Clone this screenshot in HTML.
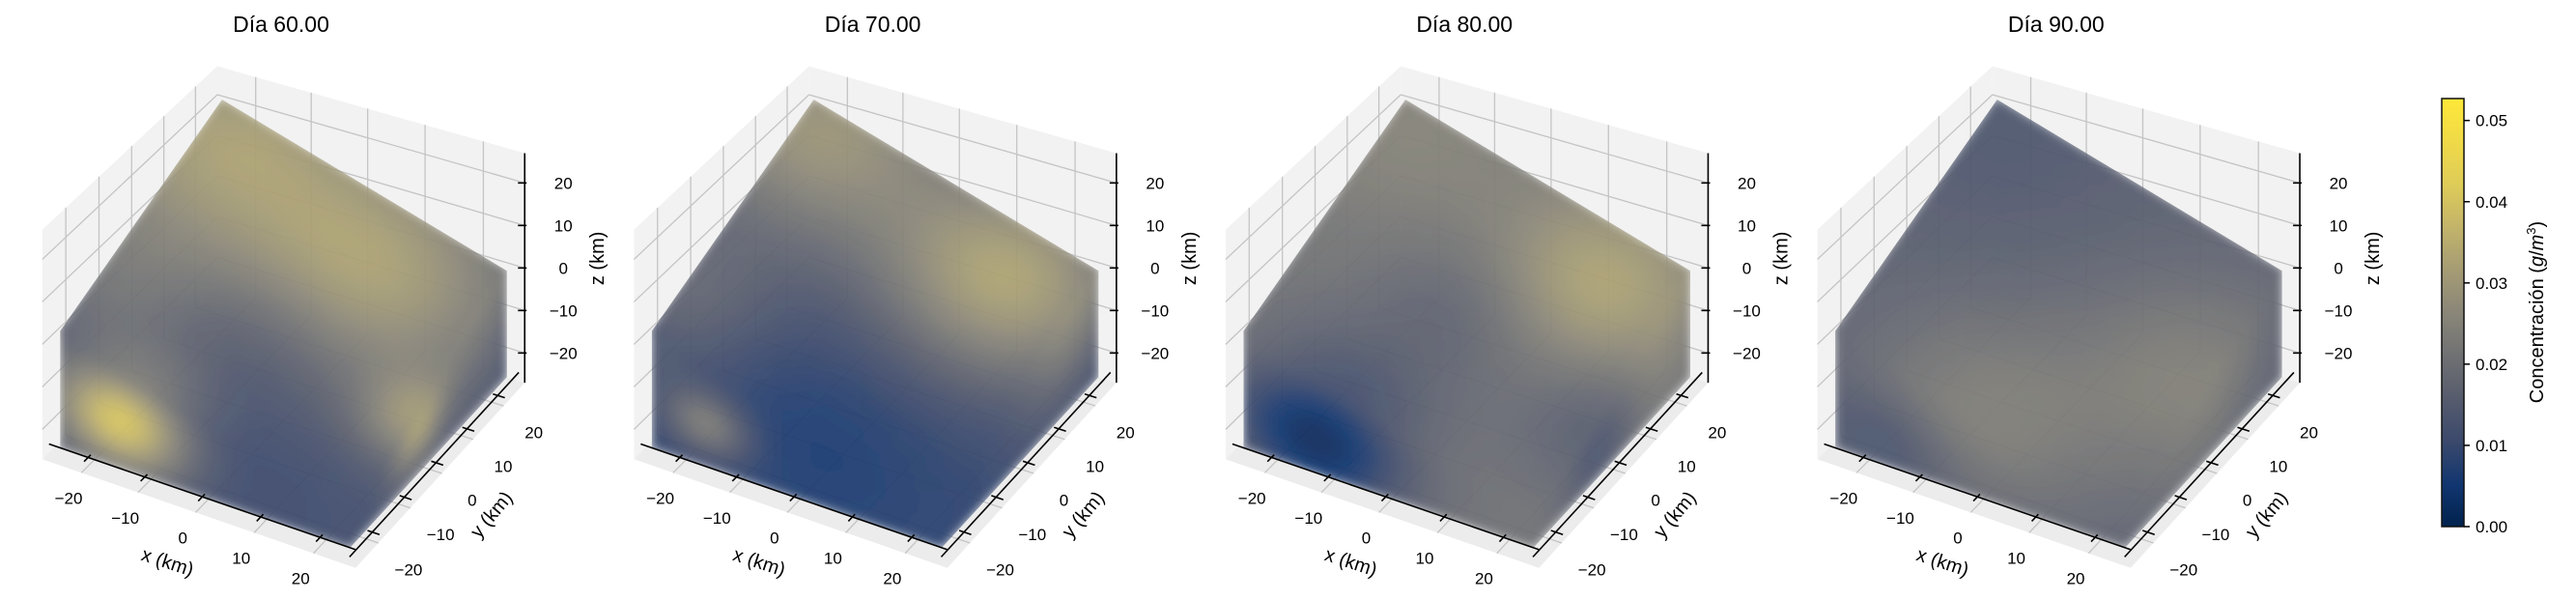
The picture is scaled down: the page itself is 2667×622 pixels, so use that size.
<!DOCTYPE html>
<html><head><meta charset="utf-8"><style>
html,body{margin:0;padding:0;background:#fff;}
svg{display:block;font-family:"Liberation Sans","DejaVu Sans",sans-serif;}
</style></head><body>
<svg id="chart" width="2667" height="622" viewBox="0 0 2667 622" xmlns="http://www.w3.org/2000/svg">
<defs>
<filter id="soft" x="-5%" y="-5%" width="110%" height="110%"><feGaussianBlur stdDeviation="5"/></filter>
<linearGradient id="cbgrad" x1="0" y1="1" x2="0" y2="0"></linearGradient>
</defs>
</svg>
<script>
// ---- data ----
const panelTitles = ["Día 60.00","Día 70.00","Día 80.00","Día 90.00"];
const baseValues = [0.012, 0.009, 0.021, 0.016];
// blobs: [x km, y km, z km, radius km, amplitude g/m3]
const blobs60 = [[-20,18,20,18,0.019],[12,12,4,16,0.018],[-14,-25,-14,8,0.028],[25,-4,-14,6,0.016],[-25,-12,2,10,0.006],[8,-25,-14,14,-0.002],[0,-4,-4,9,-0.003]];
const blobs70 = [[-20,20,20,16,0.020],[15,16,0,14,0.023],[-15,-25,-15,5,0.014],[-25,-15,2,10,0.008],[5,-25,-12,14,-0.003]];
const blobs80 = [[-12,-25,-17,11,-0.019],[15,15,0,12,0.012],[-20,20,20,14,0.004],[25,-4,-18,9,-0.008],[0,0,-2,10,-0.005]];
const blobs90 = [[0,-25,-5,14,0.008],[25,0,-6,14,0.008],[-15,-25,-18,8,-0.005],[-20,20,20,15,-0.002]];
const panelBlobs = [blobs60, blobs70, blobs80, blobs90];
const tickValues = [-20,-10,0,10,20];
const cbTicks = [0.00,0.01,0.02,0.03,0.04,0.05];
const cbTickLabels = ["0.00","0.01","0.02","0.03","0.04","0.05"];
const vmax = 0.0527;

// ---- helpers ----
const NS = "http://www.w3.org/2000/svg";
const svg = document.getElementById('chart');
const cividisStops = [[0,[0,34,78]],[0.1,[18,54,112]],[0.2,[59,73,108]],[0.3,[87,92,109]],[0.4,[112,113,115]],[0.5,[138,134,120]],[0.6,[165,156,116]],[0.7,[195,180,106]],[0.8,[222,204,88]],[0.9,[240,218,72]],[1,[254,232,56]]];
function cividis(t){t=Math.max(0,Math.min(1,t));for(let i=1;i<cividisStops.length;i++){if(t<=cividisStops[i][0]){const a=cividisStops[i-1],b=cividisStops[i];const f=(t-a[0])/(b[0]-a[0]);const c=a[1].map((v,k)=>Math.round(v+(b[1][k]-v)*f));return `rgb(${c[0]},${c[1]},${c[2]})`;}}return 'rgb(254,232,56)';}
function mk(tag,attrs,parent){const e=document.createElementNS(NS,tag);for(const k in attrs)e.setAttribute(k,attrs[k]);(parent||svg).appendChild(e);return e;}
const PDX = 612.6, OX = 293.5, OY = 316.9;
function proj(i,x,y,z){const t=(y-x)/50;const s=1-0.04*t;return [OX+i*PDX+s*(5.95*x+3.3*y), OY+s*(1.875*x-3.34*y-4.4*z)];}
function topZ(x,y){return 1.25-0.42*x+0.37*y;}
function field(i,x,y,z){let v=baseValues[i];for(const b of panelBlobs[i]){const d2=(x-b[0])**2+(y-b[1])**2+(z-b[2])**2;v+=b[4]*Math.exp(-d2/(2*b[3]*b[3]));}return v;}
function pts(a){return a.map(p=>p[0].toFixed(1)+','+p[1].toFixed(1)).join(' ');}

const grad = document.getElementById('cbgrad');
for(let k=0;k<=20;k++){const st=document.createElementNS(NS,'stop');st.setAttribute('offset',(k/20));st.setAttribute('stop-color',cividis(k/20));grad.appendChild(st);}

const L = 27, D = 25, N = 26;
for(let i=0;i<4;i++){
  const g = mk('g',{});
  
  
  const tt = mk('text',{x:291+i*PDX,y:33,'text-anchor':'middle','font-size':23,fill:'#000'},g);
  
  
  tt.textContent = panelTitles[i];
  const panes = mk('g',{},g);
  
  
  const pf = '#f2f2f2';
  mk('polygon',{points:pts([proj(i,-L,-L,-L),proj(i,L,-L,-L),proj(i,L,L,-L),proj(i,-L,L,-L)]),fill:'#ececec'},panes);
  mk('polygon',{points:pts([proj(i,-L,-L,-L),proj(i,-L,L,-L),proj(i,-L,L,L),proj(i,-L,-L,L)]),fill:pf},panes);
  mk('polygon',{points:pts([proj(i,-L,L,-L),proj(i,L,L,-L),proj(i,L,L,L),proj(i,-L,L,L)]),fill:pf},panes);
  const gl = {stroke:'#c4c4c4','stroke-width':1.3,fill:'none'};
  for(const v of tickValues){
    let a,b;
    a=proj(i,-L,v,-L);b=proj(i,-L,v,L);mk('line',Object.assign({x1:a[0],y1:a[1],x2:b[0],y2:b[1]},gl),panes);
    a=proj(i,-L,-L,v);b=proj(i,-L,L,v);mk('line',Object.assign({x1:a[0],y1:a[1],x2:b[0],y2:b[1]},gl),panes);
    a=proj(i,v,L,-L);b=proj(i,v,L,L);mk('line',Object.assign({x1:a[0],y1:a[1],x2:b[0],y2:b[1]},gl),panes);
    a=proj(i,-L,L,v);b=proj(i,L,L,v);mk('line',Object.assign({x1:a[0],y1:a[1],x2:b[0],y2:b[1]},gl),panes);
    a=proj(i,v,-L,-L);b=proj(i,v,L,-L);mk('line',Object.assign({x1:a[0],y1:a[1],x2:b[0],y2:b[1]},gl),panes);
    a=proj(i,-L,v,-L);b=proj(i,L,v,-L);mk('line',Object.assign({x1:a[0],y1:a[1],x2:b[0],y2:b[1]},gl),panes);
  }
  const cid='clip'+i;
  const cp = mk('clipPath',{id:cid},svg.querySelector('defs'));
  const sil = [proj(i,-D,D,topZ(-D,D)),proj(i,D,D,topZ(D,D)),proj(i,D,D,-D),proj(i,D,-D,-D),proj(i,-D,-D,-D),proj(i,-D,-D,topZ(-D,-D))];
  mk('polygon',{points:pts(sil)},cp);
  const vol = mk('g',{'clip-path':`url(#${cid})`},g);
  
  
  const inner = mk('g',{filter:'url(#soft)',opacity:0.93},vol);
  const step = 2*D/N;
  for(let a=0;a<N;a++){for(let b=0;b<N;b++){
    const u0=-D+a*step,u1=u0+step,w0=b/N,w1=(b+1)/N;
    {const y0=-D+b*step,y1=y0+step;const xc=(u0+u1)/2,yc=(y0+y1)/2;
     const c=cividis(field(i,xc,yc,topZ(xc,yc))/vmax);
     const q=[proj(i,u0-0.3,y0-0.3,topZ(u0,y0)),proj(i,u1+0.3,y0-0.3,topZ(u1,y0)),proj(i,u1+0.3,y1+0.3,topZ(u1,y1)),proj(i,u0-0.3,y1+0.3,topZ(u0,y1))];
     mk('polygon',{points:pts(q),fill:c,stroke:c,'stroke-width':1.5},inner);}
    {const zt0=topZ(u0,-D),zt1=topZ(u1,-D);const z=(u,zt,w)=>-D+w*(zt+D);
     const xc=(u0+u1)/2,zc=z(xc,topZ(xc,-D),(w0+w1)/2);
     const c=cividis(field(i,xc,-D,zc)/vmax);
     const q=[proj(i,u0,-D,z(u0,zt0,w0)),proj(i,u1,-D,z(u1,zt1,w0)),proj(i,u1,-D,z(u1,zt1,w1)),proj(i,u0,-D,z(u0,zt0,w1))];
     mk('polygon',{points:pts(q),fill:c,stroke:c,'stroke-width':1.5},inner);}
    {const zt0=topZ(D,u0),zt1=topZ(D,u1);const z=(zt,w)=>-D+w*(zt+D);
     const yc=(u0+u1)/2,zc=z(topZ(D,yc),(w0+w1)/2);
     const c=cividis(field(i,D,yc,zc)/vmax);
     const q=[proj(i,D,u0,z(zt0,w0)),proj(i,D,u1,z(zt1,w0)),proj(i,D,u1,z(zt1,w1)),proj(i,D,u0,z(zt0,w1))];
     mk('polygon',{points:pts(q),fill:c,stroke:c,'stroke-width':1.5},inner);}
  }}
  const ax = mk('g',{stroke:'#000','stroke-width':1.6,fill:'none'},g);
  
  
  let a=proj(i,-L,-D,-D),b=proj(i,L-1,-D,-D);
  mk('line',{x1:a[0],y1:a[1],x2:b[0],y2:b[1]},ax);
  a=proj(i,D+1,-L,-D);b=proj(i,D+1,L,-D);
  mk('line',{x1:a[0],y1:a[1],x2:b[0],y2:b[1]},ax);
  a=proj(i,L,L,-L);b=proj(i,L,L,L);
  mk('line',{x1:a[0],y1:a[1],x2:b[0],y2:b[1]},ax);
  const lab = mk('g',{'font-size':17,fill:'#000'},g);
  
  
  for(let k=0;k<tickValues.length;k++){
    const v=tickValues[k], s=(v<0?'\u2212'+Math.abs(v):String(v));
    a=proj(i,v,-D+0.8,-D);b=proj(i,v,-D-1.2,-D);mk('line',{x1:a[0],y1:a[1],x2:b[0],y2:b[1]},ax);
    let t=mk('text',{x:b[0]-16,y:b[1]+44,'text-anchor':'middle'},lab);t.textContent=s;
    a=proj(i,D+0.2,v,-D);b=proj(i,D+2.2,v,-D);mk('line',{x1:a[0],y1:a[1],x2:b[0],y2:b[1]},ax);
    t=mk('text',{x:b[0]+30,y:b[1]+42,'text-anchor':'middle'},lab);t.textContent=s;
    a=proj(i,L,L,v);mk('line',{x1:a[0]-7,y1:a[1],x2:a[0]+2,y2:a[1]},ax);
    t=mk('text',{x:a[0]+40,y:a[1]+6,'text-anchor':'middle'},lab);t.textContent=s;
  }
  const xl = proj(i,0,-D,-D);
  let t=mk('text',{x:xl[0]-36,y:xl[1]+74,'text-anchor':'middle','font-size':20,transform:`rotate(18 ${xl[0]-36} ${xl[1]+68})`},g);
  
  
  t.textContent='x (km)';
  const yl = proj(i,D,0,-D);
  t=mk('text',{x:yl[0]+64,y:yl[1]+62,'text-anchor':'middle','font-size':20,transform:`rotate(-50 ${yl[0]+64} ${yl[1]+56})`},g);
  
  
  t.textContent='y (km)';
  const zl = proj(i,L,L,0);
  t=mk('text',{x:zl[0]+82,y:zl[1]-10,'text-anchor':'middle','font-size':20,transform:`rotate(-90 ${zl[0]+82} ${zl[1]-10})`},g);
  
  
  t.textContent='z (km)';
}
const cb = mk('g',{});


const cbX=2528, cbY0=545, cbY1=102, cbW=23;
const r = mk('rect',{x:cbX,y:cbY1,width:cbW,height:cbY0-cbY1,fill:'url(#cbgrad)',stroke:'#111','stroke-width':1.5},cb);


for(let k=0;k<cbTicks.length;k++){
  const y=cbY0-(cbTicks[k]/vmax)*(cbY0-cbY1);
  mk('line',{x1:cbX+cbW,y1:y,x2:cbX+cbW+6,y2:y,stroke:'#000','stroke-width':1.5},cb);
  const t=mk('text',{x:cbX+cbW+12,y:y+6,'font-size':17},cb);
  t.textContent=cbTickLabels[k];
}
const cl = mk('text',{x:2633,y:323,'text-anchor':'middle','font-size':20,transform:'rotate(-90 2633 323)'},cb);


cl.innerHTML='Concentración (<tspan font-style="italic">g</tspan>/<tspan font-style="italic">m</tspan><tspan font-size="13" dy="-8">3</tspan><tspan dy="8">)</tspan>';
</script>
</body></html>
